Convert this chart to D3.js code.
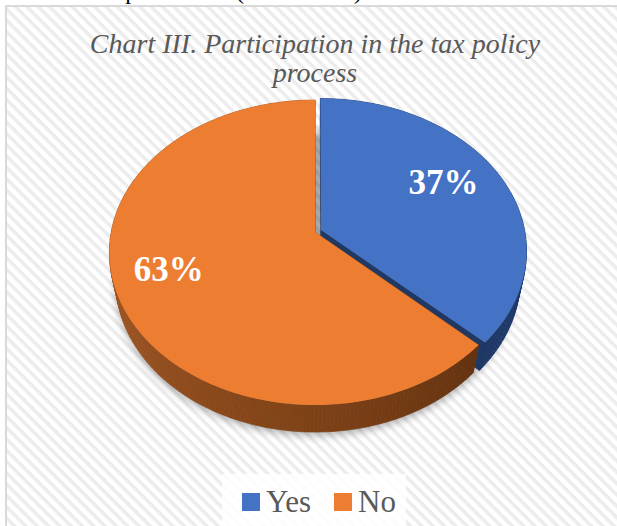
<!DOCTYPE html>
<html><head><meta charset="utf-8">
<script src="https://cdn.jsdelivr.net/npm/d3@7/dist/d3.min.js"></script>
<style>html,body{margin:0;padding:0;background:#fff;overflow:hidden}</style>
</head><body>
<script>
// ---- data ----
const categories = ["Yes", "No"];
const values = [37, 63];
const labelTexts = ["37%", "63%"];
const titleLines = ["Chart III. Participation in the tax policy", "process"];
const topColors = ["#4472C4", "#ED7D31"];
const sourceLine = "Attitude of the respondents \u2013 (own results)";

const W = 617, H = 526;
const serif = "'Liberation Serif','Times New Roman',serif";
const svg = d3.select("body").append("svg").attr("width", W).attr("height", H);
const defs = svg.append("defs");

// striped background pattern
const pat = defs.append("pattern").attr("id", "diag").attr("patternUnits", "userSpaceOnUse")
  .attr("width", 8).attr("height", 8).attr("patternTransform", "rotate(45)");
pat.append("rect").attr("width", 8).attr("height", 8).attr("fill", "#ffffff");
pat.append("rect").attr("width", 8).attr("height", 3.5).attr("fill", "#ececec");

const blur = defs.append("filter").attr("id", "shadow").attr("x", "-20%").attr("y", "-20%").attr("width", "140%").attr("height", "140%");
blur.append("feGaussianBlur").attr("stdDeviation", 4);

// clipped document text above the chart
svg.append("text").attr("x", 362).attr("y", -1).attr("text-anchor", "end")
  .attr("font-family", serif).attr("font-size", 24).attr("fill", "#000").text(sourceLine);

// chart frame
svg.append("rect").attr("x", 6).attr("y", 6).attr("width", W).attr("height", H)
  .attr("fill", "url(#diag)").attr("stroke", "#d9d9d9").attr("stroke-width", 2);

// title
const title = svg.append("text").attr("text-anchor", "middle").attr("font-family", serif)
  .attr("font-style", "italic").attr("font-size", 28).attr("fill", "#595959");
titleLines.forEach((t, i) => title.append("tspan").attr("x", 315).attr("y", 53 + i * 29).text(t));

// ---- 3D pie projection ----
const alpha = 47.3 * Math.PI / 180, dist = 5.045, F = 1028, cx = 315, cy = 232, thick = 0.215, explode = 0.033;
const sa = Math.sin(alpha), ca = Math.cos(alpha);
function proj(X, Y, Z) {
  const yc = Y * ca - Z * sa;
  const dep = dist - Y * sa - Z * ca;
  return [cx + F * X / dep, cy - F * yc / dep, dep];
}
function pt(theta, r, Y, off) {
  return proj(off[0] + r * Math.sin(theta), Y, off[1] - r * Math.cos(theta));
}

const pie = d3.pie().sort(null).startAngle(0).endAngle(2 * Math.PI);
const arcs = pie(values);
const total = d3.sum(values);
const lineGen = d3.line().x(d => d[0]).y(d => d[1]);

const slices = arcs.map((a, i) => {
  const mid = (a.startAngle + a.endAngle) / 2;
  const e = i === 0 ? explode : 0;
  return { a, i, mid, off: [e * Math.sin(mid), -e * Math.cos(mid)] };
});

// shadow
const shadowPts = d3.range(0, 361, 2).map(d => pt(d * Math.PI / 180, 1.0, -thick, [0, 0]));
svg.append("path").attr("d", lineGen(shadowPts) + "Z").attr("fill", "#000").attr("opacity", 0.33)
  .attr("transform", "translate(0,3)").attr("filter", "url(#shadow)");

// side colors
const orangeSide = d3.scaleLinear().domain([130, 180, 270, 360]).range(["#62310f", "#7e4116", "#a85a24", "#a85a24"]).clamp(true);
const blueSide = d3.scaleLinear().domain([0, 90, 135]).range(["#25437a", "#213e72", "#1c3563"]).clamp(true);
function sideColor(i, theta) {
  let deg = (theta * 180 / Math.PI) % 360;
  return i === 0 ? blueSide(deg) : orangeSide(deg);
}

const polys = [];
slices.forEach(s => {
  const { a, i, off } = s;
  const step = Math.PI / 180;
  for (let t = a.startAngle; t < a.endAngle - 1e-9; t += step) {
    const t2 = Math.min(t + step, a.endAngle);
    const p = [pt(t, 1, 0, off), pt(t2, 1, 0, off), pt(t2, 1, -thick, off), pt(t, 1, -thick, off)];
    polys.push({ p, dep: d3.mean(p, q => q[2]), color: sideColor(i, (t + t2) / 2) });
  }
  [a.startAngle, a.endAngle].forEach(t => {
    const p = [pt(t, 0, 0, off), pt(t, 1, 0, off), pt(t, 1, -thick, off), pt(t, 0, -thick, off)];
    polys.push({ p, dep: d3.mean(p, q => q[2]) + 0.05, color: i === 0 ? "#1f3864" : "#8a4619" });
  });
});
polys.sort((u, v) => v.dep - u.dep);
svg.append("g").selectAll("path").data(polys).join("path")
  .attr("d", d => lineGen(d.p) + "Z").attr("fill", d => d.color)
  .attr("stroke", d => d.color).attr("stroke-width", 0.6).attr("stroke-linejoin", "round");

// top faces
svg.append("g").selectAll("path").data(slices).join("path")
  .attr("d", s => {
    const n = Math.max(2, Math.ceil((s.a.endAngle - s.a.startAngle) / (Math.PI / 180)));
    const pts = [pt(0, 0, 0, s.off)].concat(d3.range(n + 1).map(k =>
      pt(s.a.startAngle + (s.a.endAngle - s.a.startAngle) * k / n, 1, 0, s.off)));
    return lineGen(pts) + "Z";
  })
  .attr("fill", s => topColors[s.i]);

// data labels
const labelPos = s => pt(s.mid, 0.58 + 0.27 * values[s.i] / total, 0, s.off);
svg.append("g").selectAll("text").data(slices).join("text")
  .attr("x", s => labelPos(s)[0])
  .attr("y", s => labelPos(s)[1] + 3)
  .attr("text-anchor", "middle").attr("font-family", serif).attr("font-weight", "bold")
  .attr("font-size", 35).attr("fill", "#fff").text(s => labelTexts[s.i]);

// legend
const lg = svg.append("g");
lg.append("rect").attr("x", 222).attr("y", 474).attr("width", 184).attr("height", 60)
  .attr("fill", "#fff").attr("opacity", 0.85);
const itemX = [242, 334];
categories.forEach((c, i) => {
  lg.append("rect").attr("x", itemX[i]).attr("y", 493).attr("width", 18).attr("height", 18).attr("fill", topColors[i]);
  lg.append("text").attr("x", itemX[i] + 24).attr("y", 512).attr("font-family", serif)
    .attr("font-size", 31).attr("fill", "#595959").text(c);
});
</script>
</body></html>
